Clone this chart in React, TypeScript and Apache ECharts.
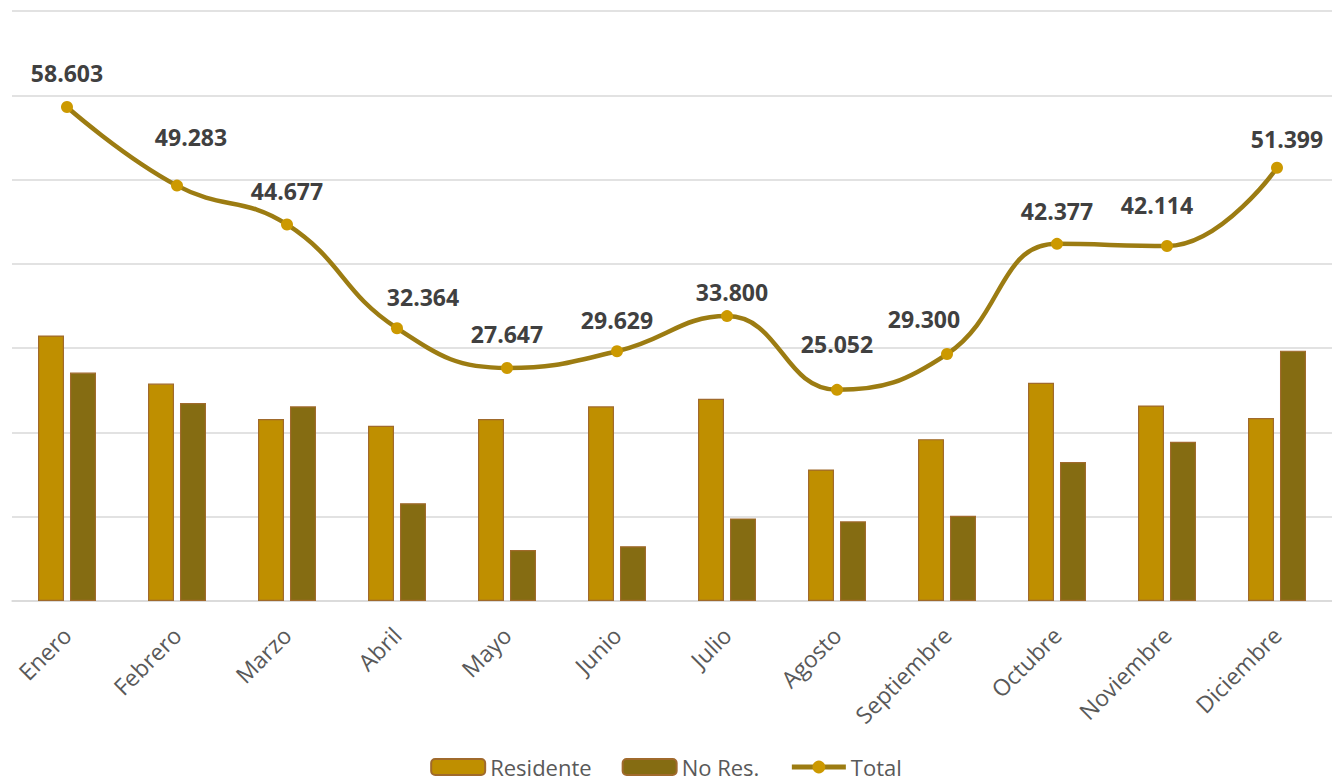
import React, { useEffect, useRef } from "react";
import * as echarts from "echarts";

const categories = ["Enero", "Febrero", "Marzo", "Abril", "Mayo", "Junio", "Julio", "Agosto", "Septiembre", "Octubre", "Noviembre", "Diciembre"];
const residente = [31.5, 25.8, 21.6, 20.8, 21.6, 23.1, 24.0, 15.6, 19.2, 25.9, 23.2, 21.7];
const noResidente = [27.1, 23.5, 23.1, 11.6, 6.05, 6.5, 9.8, 9.45, 10.1, 16.5, 18.9, 29.7];
const total = [58.603, 49.283, 44.677, 32.364, 27.647, 29.629, 33.8, 25.052, 29.3, 42.377, 42.114, 51.399];

// label nudges (pixels) to mimic the original placement of the data labels
const labelDx = [0, 14, 0, 26, 0, 0, 5, 0, -23, 0, -10, 10];
const labelDy = [-1, -15, 0, 2, 0, 2, 9, -12, -2, 1, -8, 5];

const fmt = (v: number) => v.toFixed(3);

export default function App() {
  const ref = useRef<HTMLDivElement>(null);
  useEffect(() => {
    if (!ref.current) return;
    const chart = echarts.init(ref.current, null, { renderer: "svg" });
    const totalData = total.map((v, i) => ({
      value: v,
      label: { offset: [labelDx[i], labelDy[i]] },
    }));
    chart.setOption({
      animation: false,
      textStyle: { fontFamily: "Open Sans" },
      grid: { left: 12, right: -9, top: 11, bottom: 183, containLabel: false },
      legend: {
        top: 754,
        left: "center",
        padding: 0,
        itemWidth: 54,
        itemHeight: 16,
        itemGap: 30,
        textStyle: { fontSize: 22, color: "#595959", fontFamily: "Open Sans", lineHeight: 26 },
        data: [
          { name: "Residente" },
          { name: "No Res." },
          { name: "Total", lineStyle: { width: 5, color: "#9c7c12" } },
        ],
      },
      xAxis: {
        type: "category",
        data: categories,
        axisLine: { lineStyle: { color: "#d9d9d9", width: 1.5 } },
        axisTick: { show: false },
        axisLabel: { rotate: 45, fontSize: 23, color: "#595959", margin: 30, interval: 0 },
      },
      yAxis: {
        type: "value",
        min: 0,
        max: 70,
        interval: 10,
        axisLabel: { show: false },
        axisLine: { show: false },
        axisTick: { show: false },
        splitLine: { lineStyle: { color: "#d9d9d9", width: 1.5 } },
      },
      series: [
        {
          name: "Residente",
          type: "bar",
          data: residente,
          barWidth: 26,
          barGap: "23%",
          itemStyle: { color: "#bf8f00", borderColor: "#a06a2c", borderWidth: 1.2 },
        },
        {
          name: "No Res.",
          type: "bar",
          data: noResidente,
          barWidth: 26,
          barGap: "23%",
          itemStyle: { color: "#856c12", borderColor: "#a06a2c", borderWidth: 1.2 },
        },
        {
          name: "Total",
          type: "line",
          data: totalData,
          smooth: 0.45,
          symbol: "circle",
          symbolSize: 12,
          lineStyle: { color: "#9c7c12", width: 4.5 },
          itemStyle: { color: "#cc9900" },
          label: {
            show: true,
            position: "top",
            distance: 16,
            fontSize: 23,
            fontWeight: "bold",
            color: "#404040",
            formatter: (p: any) => fmt(p.value),
          },
        },
      ],
    });
    return () => chart.dispose();
  }, []);
  return (
    <div
      ref={ref}
      style={{ position: "fixed", left: 0, top: 0, width: 1332, height: 784, background: "#fff" }}
    />
  );
}
